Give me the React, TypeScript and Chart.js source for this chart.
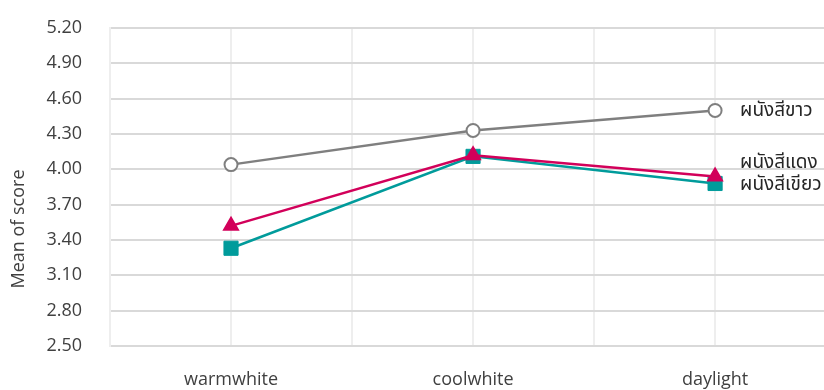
import React, { useEffect, useRef } from "react";
import { Chart, registerables } from "chart.js";

Chart.register(...registerables);

// Lighting conditions on the x axis
const categories = ["warmwhite", "coolwhite", "daylight"];
// Wall colour series (names drawn at the end of each line)
const seriesNames = ["ผนังสีขาว", "ผนังสีแดง", "ผนังสีเขียว"];
// Mean scores per lighting condition
const whiteWall = [4.04, 4.33, 4.5];
const redWall = [3.52, 4.12, 3.94];
const greenWall = [3.33, 4.11, 3.88];
// Value axis ticks
const yTicks = [2.5, 2.8, 3.1, 3.4, 3.7, 4.0, 4.3, 4.6, 4.9, 5.2];

const FONT = '"Open Sans", "Noto Sans", "Noto Sans Thai", "Loma", "Garuda", "DejaVu Sans", sans-serif';
const TEXT = "#404040";

// each category sits on every other grid line: 1, 3, 5
const xOf = (i: number) => 2 * i + 1;
const toPoints = (vals: number[]) => vals.map((v, i) => ({ x: xOf(i), y: v }));

// vertical shift for each end label so they don't collide
const labelShift = [0, -14, 1];

const endLabels = {
  id: "endLabels",
  afterDatasetsDraw(chart: any) {
    const ctx = chart.ctx;
    ctx.save();
    ctx.font = `19px ${FONT}`;
    ctx.fillStyle = "#262626";
    ctx.textAlign = "left";
    ctx.textBaseline = "middle";
    chart.data.datasets.forEach((ds: any, i: number) => {
      const meta = chart.getDatasetMeta(i);
      const pt = meta.data[meta.data.length - 1];
      ctx.fillText(ds.label, pt.x + 25, pt.y + labelShift[i]);
    });
    ctx.restore();
  },
};

const yTitle = {
  id: "yTitle",
  afterDraw(chart: any) {
    const ctx = chart.ctx;
    const area = chart.chartArea;
    ctx.save();
    ctx.font = `18px ${FONT}`;
    ctx.fillStyle = TEXT;
    ctx.textAlign = "center";
    ctx.textBaseline = "middle";
    ctx.translate(19, area.bottom - 117);
    ctx.rotate(-Math.PI / 2);
    ctx.fillText("Mean of score", 0, 0);
    ctx.restore();
  },
};

export default function App() {
  const canvasRef = useRef<HTMLCanvasElement | null>(null);

  useEffect(() => {
    if (!canvasRef.current) return;
    const chart = new Chart(canvasRef.current, {
      type: "line",
      data: {
        datasets: [
          {
            label: seriesNames[0],
            data: toPoints(whiteWall),
            borderColor: "#7f7f7f",
            borderWidth: 2.5,
            pointStyle: "circle",
            pointRadius: 6.5,
            pointBorderWidth: 2,
            pointBackgroundColor: "#ffffff",
            pointBorderColor: "#7f7f7f",
          },
          {
            label: seriesNames[1],
            data: toPoints(redWall),
            borderColor: "#d2005a",
            borderWidth: 2.5,
            pointStyle: "triangle",
            pointRadius: 8,
            pointBorderWidth: 2,
            pointBackgroundColor: "#d2005a",
            pointBorderColor: "#d2005a",
          },
          {
            label: seriesNames[2],
            data: toPoints(greenWall),
            borderColor: "#009b9b",
            borderWidth: 2.5,
            pointStyle: "rect",
            pointRadius: 10,
            pointBorderWidth: 1,
            pointBackgroundColor: "#009b9b",
            pointBorderColor: "#009b9b",
          },
        ],
      },
      options: {
        responsive: false,
        animation: false,
        layout: { autoPadding: false, padding: { top: 28, right: 0, bottom: 0, left: 0 } },
        plugins: {
          legend: { display: false },
          tooltip: { enabled: false },
        },
        scales: {
          x: {
            type: "linear",
            min: 0,
            max: 5.9,
            afterBuildTicks: (scale: any) => {
              scale.ticks = [0, 1, 2, 3, 4, 5].map((v) => ({ value: v }));
            },
            afterFit: (scale: any) => {
              scale.height = 44;
              scale.paddingLeft = 0;
              scale.paddingRight = 0;
            },
            grid: { color: "#eeeeee", lineWidth: 2, drawTicks: false },
            border: { color: "#d9d9d9", width: 2 },
            ticks: {
              autoSkip: false,
              maxRotation: 0,
              padding: 23,
              color: TEXT,
              font: { family: FONT, size: 18 },
              callback: (v: any) => {
                const idx = categories.findIndex((_, i) => xOf(i) === v);
                return idx >= 0 ? categories[idx] : "";
              },
            },
          },
          y: {
            type: "linear",
            min: 2.5,
            max: 5.2,
            afterBuildTicks: (scale: any) => {
              scale.ticks = yTicks.map((v) => ({ value: v }));
            },
            afterFit: (scale: any) => {
              scale.width = 110;
              scale.paddingTop = 0;
              scale.paddingBottom = 0;
            },
            grid: { color: "#d9d9d9", lineWidth: 2, drawTicks: false },
            border: { color: "#eeeeee", width: 2 },
            ticks: {
              padding: 28,
              color: TEXT,
              font: { family: FONT, size: 18 },
              callback: (v: any) => Number(v).toFixed(2),
            },
          },
        },
      },
      plugins: [endLabels, yTitle],
    });
    return () => chart.destroy();
  }, []);

  return (
    <div style={{ position: "absolute", left: 0, top: 0, width: 824, height: 390, background: "#ffffff" }}>
      <canvas ref={canvasRef} width={824} height={390} style={{ display: "block" }} />
    </div>
  );
}
